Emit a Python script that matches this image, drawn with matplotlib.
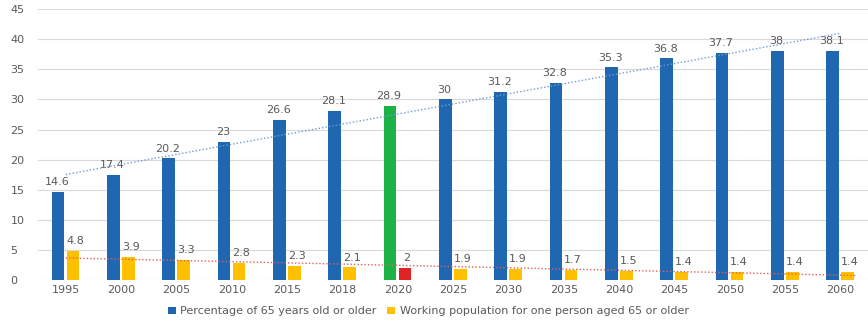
import numpy as np
import matplotlib
matplotlib.use("Agg")
import matplotlib.pyplot as plt

years = ["1995", "2000", "2005", "2010", "2015", "2018", "2020", "2025",
         "2030", "2035", "2040", "2045", "2050", "2055", "2060"]
pct_65 = [14.6, 17.4, 20.2, 23, 26.6, 28.1, 28.9, 30, 31.2, 32.8, 35.3, 36.8, 37.7, 38, 38.1]
workers = [4.8, 3.9, 3.3, 2.8, 2.3, 2.1, 2, 1.9, 1.9, 1.7, 1.5, 1.4, 1.4, 1.4, 1.4]
highlight = "2020"

blue = "#1F67B1"
yellow = "#FFC000"
green = "#1DB245"
red = "#E02424"
gray = "#595959"

x = np.arange(len(years))
blue_colors = [green if y == highlight else blue for y in years]
yellow_colors = [red if y == highlight else yellow for y in years]

fig = plt.figure(figsize=(8.68, 3.22), dpi=100)
ax = fig.add_axes([0.044, 0.13, 0.956, 0.842])

w = 0.23
ax.bar(x - 0.14, pct_65, w, color=blue_colors, zorder=3,
       label="Percentage of 65 years old or older")
ax.bar(x + 0.13, workers, w, color=yellow_colors, zorder=3,
       label="Working population for one person aged 65 or older")

for i in range(len(years)):
    ax.text(x[i] - 0.16, pct_65[i] + 0.8, f"{pct_65[i]:g}", ha="center", va="bottom",
            fontsize=8, color=gray)
    ax.text(x[i] + 0.17, workers[i] + 0.8, f"{workers[i]:g}", ha="center", va="bottom",
            fontsize=8, color=gray)

# linear trendlines
p1 = np.polyfit(x, pct_65, 1)
ax.plot(x, np.polyval(p1, x), ls=(0, (1, 1.5)), color="#6F9BD6", lw=1.0, zorder=4)
p2 = np.polyfit(x, workers, 1)
ax.plot(np.append(x, 14.3), np.polyval(p2, np.append(x, 14.3)), ls=(0, (1, 1.5)),
        color="#E06060", lw=1.0, zorder=4)

ax.set_xlim(-0.5, 14.5)
ax.set_ylim(0, 45)
ax.set_yticks(range(0, 46, 5))
ax.set_xticks(x)
ax.set_xticklabels(years)
ax.tick_params(axis="both", length=0, labelsize=8, colors=gray)
ax.tick_params(axis="y", pad=20)
ax.yaxis.grid(True, color="#D9D9D9", lw=0.8, zorder=0)
for lab in ax.get_yticklabels():
    lab.set_ha("left")
for s in ax.spines.values():
    s.set_visible(False)

ax.legend(loc="upper center", bbox_to_anchor=(0.47, -0.06), ncol=2, frameon=False,
          fontsize=8, labelcolor=gray, handlelength=0.7, handleheight=0.5,
          handletextpad=0.4, columnspacing=1.0)

fig.savefig("out.png", dpi=100)
